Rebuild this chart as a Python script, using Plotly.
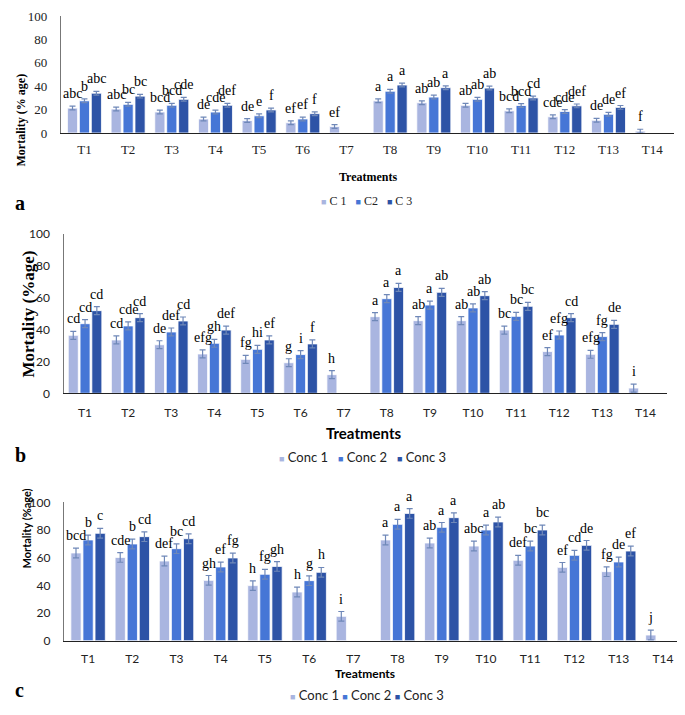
import plotly.graph_objects as go

treatments = ["T1", "T2", "T3", "T4", "T5", "T6", "T7", "T8", "T9", "T10", "T11", "T12", "T13", "T14"]
y_ticks = [0, 20, 40, 60, 80, 100]

# Panel a
a_c1 = [21.3, 20.5, 18.0, 12.0, 10.7, 8.8, 5.6, 27.5, 25.9, 23.7, 19.0, 13.9, 10.9, 1.6]
a_c2 = [27.5, 24.5, 23.7, 17.9, 14.7, 12.0, None, 35.7, 30.7, 28.8, 23.5, 18.4, 16.0, None]
a_c3 = [34.0, 31.5, 28.8, 23.7, 19.7, 16.5, None, 41.0, 38.7, 38.4, 30.0, 23.2, 21.9, None]
a_l1 = ["abc", "abc", "bcd", "de", "de", "ef", "ef", "a", "ab", "ab", "bcd", "cde", "de", "f"]
a_l2 = ["b", "bc", "bcd", "cde", "e", "ef", "", "a", "ab", "ab", "bcd", "cde", "de", ""]
a_l3 = ["abc", "bc", "cde", "def", "f", "f", "", "a", "a", "ab", "cd", "def", "ef", ""]
a_err = 1.6

# Panel b
b_c1 = [36.4, 33.5, 30.5, 24.7, 21.3, 19.2, 11.7, 48.1, 45.6, 45.6, 39.7, 26.2, 24.5, 3.3]
b_c2 = [43.7, 42.3, 38.5, 31.4, 27.6, 24.3, None, 59.4, 55.4, 53.6, 48.3, 36.6, 35.6, None]
b_c3 = [51.9, 47.5, 45.4, 39.7, 33.5, 31.0, None, 66.5, 63.4, 61.3, 54.6, 47.5, 43.3, None]
b_l1 = ["cd", "cd", "de", "efg", "fg", "g", "h", "a", "ab", "ab", "bc", "ef", "efg", "i"]
b_l2 = ["cd", "cde", "def", "gh", "hi", "i", "", "a", "a", "ab", "bc", "efg", "fg", ""]
b_l3 = ["cd", "cd", "cd", "def", "ef", "f", "", "a", "ab", "ab", "bc", "cd", "de", ""]
b_err = 2.5

# Panel c
c_c1 = [63.4, 60.2, 57.6, 43.6, 39.8, 35.2, 17.6, 72.8, 70.6, 68.4, 58.1, 53.0, 49.9, 4.1]
c_c2 = [72.8, 69.9, 66.5, 53.3, 48.0, 43.4, None, 84.1, 81.9, 80.0, 68.4, 61.7, 56.9, None]
c_c3 = [77.6, 75.2, 73.7, 59.8, 53.7, 49.4, None, 92.0, 88.9, 85.8, 80.0, 68.9, 64.8, None]
c_l1 = ["bcd", "cde", "def", "gh", "h", "h", "i", "a", "ab", "abc", "def", "ef", "fg", "j"]
c_l2 = ["b", "b", "bc", "ef", "fg", "g", "", "a", "a", "a", "bc", "cd", "de", ""]
c_l3 = ["c", "cd", "cd", "fg", "gh", "h", "", "a", "a", "ab", "bc", "de", "ef", ""]
c_err = 3.5

names_a = ["C 1", "C2", "C 3"]
names_bc = ["Conc 1", "Conc 2", "Conc 3"]

colors = ["#a9b5e0", "#4676d6", "#2d53a6"]
err_color = "#6f88b8"
SERIF = "Liberation Serif"
SANS = "Lato"

BARGAP = 0.18
slot = (1 - BARGAP) / 3

# the page body has an 8px default margin; lay out in window pixels
OFF = 8
W, H = 685 - OFF, 715 - OFF


def pxx(px):
    return (px - OFF) / W


def pxy(py):
    return 1 - (py - OFF) / H


fig = go.Figure()
annotations = []

panels = [
    dict(vals=[a_c1, a_c2, a_c3], labs=[a_l1, a_l2, a_l3], err=a_err, names=names_a, ax=""),
    dict(vals=[b_c1, b_c2, b_c3], labs=[b_l1, b_l2, b_l3], err=b_err, names=names_bc, ax="2"),
    dict(vals=[c_c1, c_c2, c_c3], labs=[c_l1, c_l2, c_l3], err=c_err, names=names_bc, ax="3"),
]

for p in panels:
    for k in range(3):
        vals = p["vals"][k]
        errs = [p["err"] if v is not None else None for v in vals]
        fig.add_trace(go.Bar(
            x=treatments, y=vals, name=p["names"][k], showlegend=False,
            marker=dict(color=colors[k], line=dict(color="white", width=0.8)),
            error_y=dict(type="data", array=errs, visible=True, color=err_color,
                         thickness=1.2, width=3),
            xaxis="x" + p["ax"], yaxis="y" + p["ax"],
        ))
        for i, v in enumerate(vals):
            lab = p["labs"][k][i]
            if v is None or not lab:
                continue
            annotations.append(dict(
                x=i + (k - 1) * slot, y=v + p["err"], xref="x" + p["ax"], yref="y" + p["ax"],
                text=lab, showarrow=False, yanchor="bottom", yshift=3,
                font=dict(family=SERIF, size=14, color="black"),
            ))


def legend_text(names, gap):
    parts = []
    for n, c in zip(names, colors):
        parts.append('<span style="color:%s;font-size:9px">\u25A0</span>\u00a0%s' % (c, n))
    return ("\u00a0" * gap).join(parts)


annotations += [
    dict(x=pxx(11), y=pxy(72), xref="paper", yref="paper", text="<b>Mortality (% age)</b>",
         textangle=-90, showarrow=False, font=dict(family=SERIF, size=12, color="black")),
    dict(x=pxx(368), y=pxy(168), xref="paper", yref="paper", text="<b>Treatments</b>",
         showarrow=False, font=dict(family=SERIF, size=12, color="black")),
    dict(x=pxx(16), y=pxy(314), xref="paper", yref="paper", text="<b>Mortality (%age)</b>",
         textangle=-90, showarrow=False, font=dict(family=SERIF, size=17, color="black")),
    dict(x=pxx(363), y=pxy(433), xref="paper", yref="paper", text="<b>Treatments</b>",
         showarrow=False, font=dict(family=SANS, size=15, color="black")),
    dict(x=pxx(17), y=pxy(571), xref="paper", yref="paper", text="<b>Mortality (%age)</b>",
         textangle=-90, showarrow=False, font=dict(family=SANS, size=11, color="black")),
    dict(x=pxx(365), y=pxy(683), xref="paper", yref="paper", text="<b>Treatments</b>",
         showarrow=False, font=dict(family=SANS, size=12, color="black")),
    dict(x=pxx(13), y=pxy(190), xref="paper", yref="paper", text="<b>a</b>",
         showarrow=False, font=dict(family=SERIF, size=20, color="black")),
    dict(x=pxx(13), y=pxy(455), xref="paper", yref="paper", text="<b>b</b>",
         showarrow=False, font=dict(family=SERIF, size=20, color="black")),
    dict(x=pxx(13), y=pxy(703), xref="paper", yref="paper", text="<b>c</b>",
         showarrow=False, font=dict(family=SERIF, size=20, color="black")),
    # legends
    dict(x=pxx(366), y=pxy(192), xref="paper", yref="paper", text=legend_text(names_a, 3),
         showarrow=False, font=dict(family=SERIF, size=12, color="#222")),
    dict(x=pxx(362), y=pxy(457), xref="paper", yref="paper", text=legend_text(names_bc, 3),
         showarrow=False, font=dict(family=SANS, size=13, color="#222")),
    dict(x=pxx(367), y=pxy(705), xref="paper", yref="paper", text=legend_text(names_bc, 1),
         showarrow=False, font=dict(family=SANS, size=13, color="#222")),
]


def xax(domain, fam, size, standoff, anchor):
    return dict(domain=domain, type="category", showline=True, linecolor="#222", linewidth=1.2,
                showgrid=False, ticks="", tickfont=dict(family=fam, size=size, color="#222"),
                ticklabelstandoff=standoff, zeroline=False, fixedrange=True, automargin=False,
                anchor=anchor)


def yax(domain, fam, size, anchor):
    return dict(domain=domain, range=[0, 100.01], tickmode="array", tickvals=y_ticks,
                showline=True, linecolor="#777",
                linewidth=1.2, showgrid=False, ticks="", zeroline=False, anchor=anchor,
                tickfont=dict(family=fam, size=size, color="#222"), ticklabelstandoff=10,
                automargin=False, fixedrange=True)


fig.update_layout(
    template="none",
    width=W, height=H, margin=dict(l=0, r=0, t=0, b=0, autoexpand=False),
    paper_bgcolor="white", plot_bgcolor="white",
    barmode="group", bargap=BARGAP, bargroupgap=0.15,
    xaxis=xax([pxx(61), pxx(674)], SERIF, 13, 4, "y"),
    yaxis=yax([pxy(133), pxy(16)], SERIF, 13, "x"),
    xaxis2=xax([pxx(63.5), pxx(667)], SANS, 12, 8, "y2"),
    yaxis2=yax([pxy(393.3), pxy(234)], SANS, 12, "x2"),
    xaxis3=xax([pxx(64), pxx(685)], SANS, 12, 7, "y3"),
    yaxis3=yax([pxy(640.7), pxy(502.3)], SANS, 12, "x3"),
    annotations=annotations,
    showlegend=False,
)

fig.write_html("out.html")
